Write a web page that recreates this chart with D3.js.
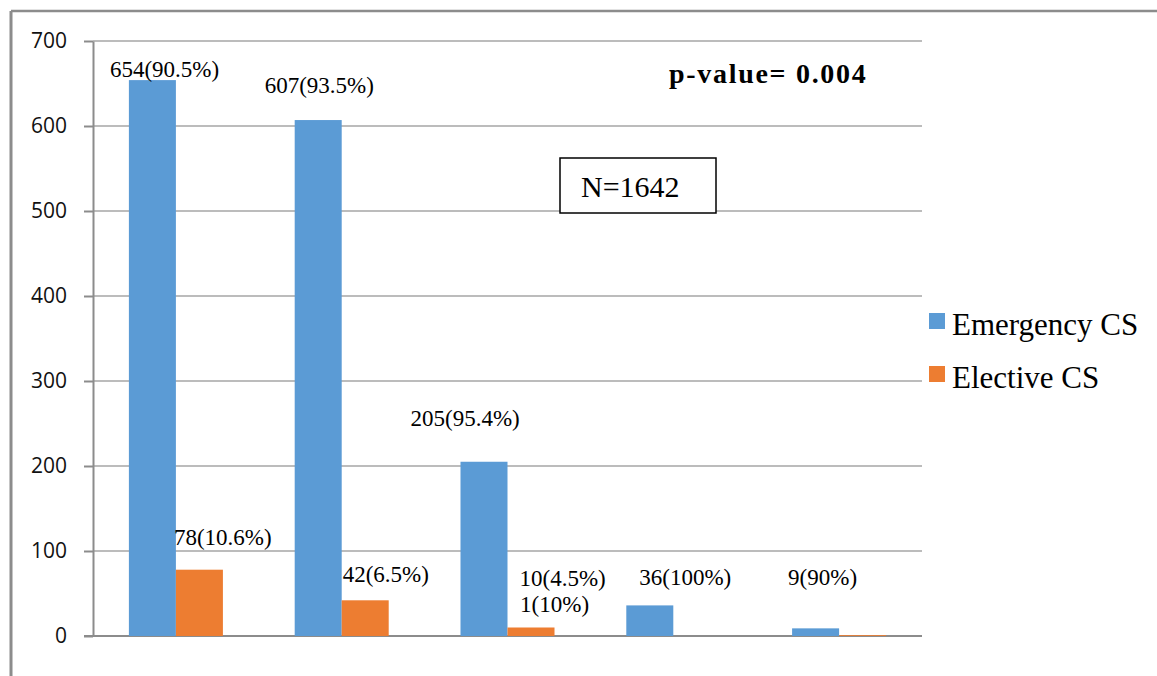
<!DOCTYPE html>
<html>
<head>
<meta charset="utf-8">
<script src="https://cdn.jsdelivr.net/npm/d3@7"></script>
<style>
  html, body { margin: 0; padding: 0; background: #fff; }
  svg { display: block; }
</style>
</head>
<body>
<script>
// Caesarean sections by group: emergency vs elective
const categories = ["A", "B", "C", "D", "E"];
const seriesNames = ["Emergency CS", "Elective CS"];
const emergency = [654, 607, 205, 36, 9];
const emergencyPct = ["90.5", "93.5", "95.4", "100", "90"];
const elective = [78, 42, 10, 0, 1];
const electivePct = ["10.6", "6.5", "4.5", null, "10"];
const yTicks = [0, 100, 200, 300, 400, 500, 600, 700];
const pValueText = "p-value= 0.004";
const totalText = "N=1642";

const colors = ["#5b9bd5", "#ed7d31"];

// Label placement relative to each bar's top-left corner (pixels)
const labelNudges = {
  "0-0": [-19, -3], "0-1": [-30, -27], "0-2": [-50, -36], "0-3": [13, -20], "0-4": [-4, -43],
  "1-0": [-2, -25], "1-1": [1, -18], "1-2": [12, -42], "1-4": [-319, -23]
};

const W = 1157, H = 676;
const serif = "'Liberation Serif', 'Times New Roman', serif";
const svg = d3.select("body").append("svg").attr("width", W).attr("height", H);

// outer frame (top and left edges visible)
svg.append("line").attr("x1", 11).attr("x2", W).attr("y1", 11).attr("y2", 11)
  .attr("stroke", "#8c8c8c").attr("stroke-width", 2.5);
svg.append("line").attr("x1", 11).attr("x2", 11).attr("y1", 11).attr("y2", H)
  .attr("stroke", "#8c8c8c").attr("stroke-width", 3);

const plot = { left: 93, right: 922, top: 41, bottom: 636 };

const y = d3.scaleLinear().domain([0, 700]).range([plot.bottom, plot.top]);
const x0 = d3.scaleBand().domain(categories).range([plot.left, plot.right])
  .paddingInner(0.433).paddingOuter(0.2165);
const x1 = d3.scaleBand().domain(seriesNames).range([0, x0.bandwidth()]);

// gridlines
svg.append("g").selectAll("line").data(yTicks.filter(d => d > 0)).join("line")
  .attr("x1", plot.left).attr("x2", plot.right)
  .attr("y1", d => y(d)).attr("y2", d => y(d))
  .attr("stroke", "#a6a6a6").attr("stroke-width", 1.5);

// y axis
const yAxis = d3.axisLeft(y).tickValues(yTicks).tickSize(9).tickPadding(17).tickSizeOuter(0);
const ga = svg.append("g").attr("transform", `translate(${plot.left},0)`).call(yAxis);
ga.select(".domain").attr("stroke", "#8c8c8c").attr("stroke-width", 2);
ga.selectAll(".tick line").attr("stroke", "#8c8c8c").attr("stroke-width", 2);
ga.selectAll(".tick text").attr("font-family", "'Open Sans', sans-serif")
  .attr("font-size", 21).attr("fill", "#111");

// x baseline
svg.append("line").attr("x1", plot.left - 9).attr("x2", plot.right)
  .attr("y1", y(0)).attr("y2", y(0)).attr("stroke", "#8c8c8c").attr("stroke-width", 2);

// bars (drawn over the baseline)
const rows = categories.map((c, i) => ({ cat: c, i, vals: [emergency[i], elective[i]] }));
const groups = svg.append("g").selectAll("g").data(rows).join("g")
  .attr("transform", d => `translate(${x0(d.cat)},0)`);
groups.selectAll("rect").data(d => d.vals.map((v, s) => ({ v, s })))
  .join("rect")
  .attr("x", d => x1(seriesNames[d.s]))
  .attr("width", x1.bandwidth())
  .attr("y", d => y(d.v))
  .attr("height", d => y(0) - y(d.v))
  .attr("fill", d => colors[d.s]);

// value labels
const labels = [];
[emergency, elective].forEach((vals, s) => {
  const pcts = s === 0 ? emergencyPct : electivePct;
  vals.forEach((v, i) => {
    if (pcts[i] == null) return;
    const nudge = labelNudges[`${s}-${i}`];
    labels.push({
      text: `${v}(${pcts[i]}%)`,
      x: x0(categories[i]) + x1(seriesNames[s]) + nudge[0],
      y: y(v) + nudge[1]
    });
  });
});
svg.append("g").selectAll("text").data(labels).join("text")
  .attr("x", d => d.x).attr("y", d => d.y)
  .attr("font-family", serif)
  .attr("font-size", 23).attr("fill", "#000")
  .text(d => d.text);

// p-value annotation
svg.append("text").attr("x", 669).attr("y", 83)
  .attr("font-family", serif)
  .attr("font-size", 28).attr("font-weight", "bold").attr("letter-spacing", 1.7)
  .text(pValueText);

// total count box
svg.append("rect").attr("x", 560).attr("y", 158).attr("width", 156).attr("height", 55)
  .attr("fill", "#fff").attr("stroke", "#000").attr("stroke-width", 1.5);
svg.append("text").attr("x", 581).attr("y", 197)
  .attr("font-family", serif)
  .attr("font-size", 30).text(totalText);

// legend
const legend = svg.append("g").selectAll("g").data(seriesNames).join("g")
  .attr("transform", (d, i) => `translate(929,${313 + i * 53})`);
legend.append("rect").attr("width", 16).attr("height", 16).attr("fill", (d, i) => colors[i]);
legend.append("text").attr("x", 23).attr("y", 22)
  .attr("font-family", serif)
  .attr("font-size", 31).text(d => d);
</script>
</body>
</html>
